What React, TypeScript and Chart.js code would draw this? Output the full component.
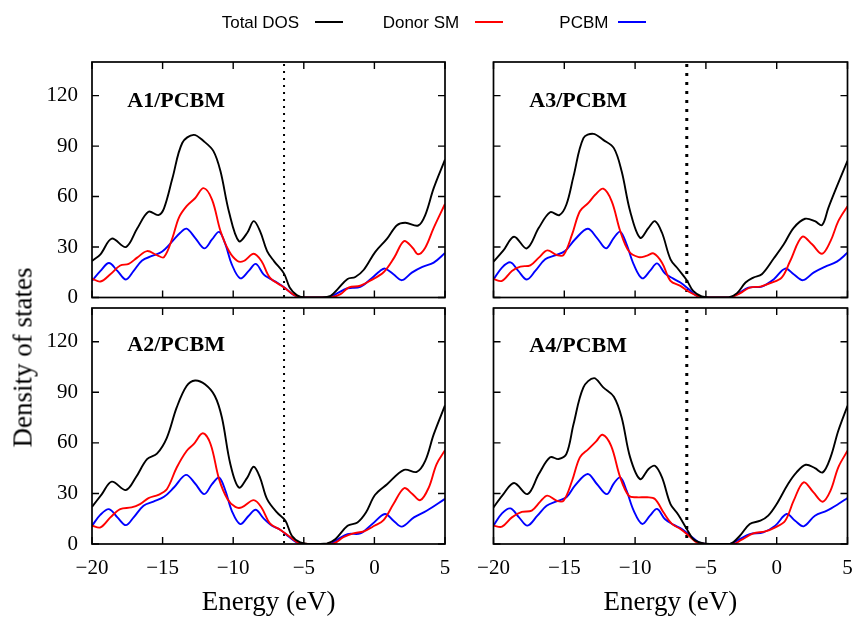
import React, { useEffect, useRef } from 'react';
import { Chart, registerables } from 'chart.js';

Chart.register(...registerables);

type Pt = [number, number];

// ---------- axes ----------
const X_MIN = -20;
const X_MAX = 5;
const Y_MIN = 0;
const Y_MAX = 140;
const X_TICKS = [-20, -15, -10, -5, 0, 5];
const Y_TICKS = [0, 30, 60, 90, 120];

// ---------- legend ----------
const SERIES_NAMES = ['Total DOS', 'Donor SM', 'PCBM'];
const SERIES_COLORS = ['#000000', '#ff0000', '#0000ff'];

// ---------- panel A1/PCBM ----------
const A1_TOTAL: Pt[] = [[-20, 21.7], [-19.4, 25.7], [-18.6, 35], [-17.6, 30], [-16.8, 41], [-16, 51], [-15.3, 49], [-14.9, 53], [-14.3, 71], [-13.6, 92], [-12.8, 96.7], [-12.1, 93], [-11.4, 87], [-10.9, 75], [-10.3, 51], [-9.6, 33.5], [-9.0, 38.5], [-8.55, 45.4], [-8.1, 39.5], [-7.6, 27.6], [-7.1, 21.5], [-6.4, 14.2], [-6.0, 6], [-5.5, 1.4], [-5.0, 0], [-3.8, 0], [-3.1, 1], [-2.6, 5], [-1.9, 11], [-1.35, 12.2], [-0.75, 16.5], [0.05, 27], [0.9, 35], [1.6, 43], [2.2, 44.4], [3.1, 42.8], [3.6, 49], [4.2, 65], [5, 82]];
const A1_DONOR: Pt[] = [[-20, 11.2], [-19.4, 9.5], [-18.7, 13.8], [-18.0, 19], [-17.4, 20], [-16.8, 23.7], [-16.1, 27.6], [-15.4, 25.2], [-14.9, 24], [-14.3, 35.5], [-13.85, 47.4], [-13.3, 54.3], [-12.7, 59], [-12.1, 65], [-11.5, 58.2], [-10.9, 39.5], [-10.3, 27.6], [-9.7, 21.7], [-9.25, 21.7], [-8.55, 26], [-8.0, 21.7], [-7.4, 11.8], [-6.4, 6], [-5.7, 1.6], [-5.0, 0], [-3.1, 0], [-2.4, 2], [-1.8, 6], [-1.0, 7], [-0.3, 10], [0.65, 15], [1.4, 23.7], [2.1, 33.5], [2.7, 29.6], [3.1, 25.7], [3.6, 29.6], [4.2, 41.4], [5, 55.6]];
const A1_PCBM: Pt[] = [[-20, 9.9], [-19.4, 15.8], [-18.8, 20.5], [-18.2, 15.8], [-17.6, 10.7], [-17.05, 15.8], [-16.45, 22], [-15.75, 24.7], [-15.05, 27.2], [-14.3, 33.5], [-13.75, 38.5], [-13.3, 40.9], [-12.7, 35.5], [-12.05, 29.2], [-11.5, 34.5], [-11.0, 39], [-10.55, 31.6], [-10.1, 19.7], [-9.5, 11.4], [-8.9, 15.8], [-8.4, 20], [-7.85, 13.8], [-7.4, 11.2], [-6.9, 8.9], [-6.3, 5.5], [-5.7, 1.4], [-5.0, 0], [-3.2, 0], [-2.65, 2.4], [-1.9, 5.5], [-1.0, 6.3], [-0.15, 11.8], [0.4, 15.8], [0.75, 17.2], [1.35, 13.8], [1.95, 10.3], [2.65, 14.8], [3.4, 18.2], [4.2, 20.7], [5, 26.4]];
const A1_FERMI = -6.4;

// ---------- panel A2/PCBM ----------
const A2_TOTAL: Pt[] = [[-20, 22], [-19.3, 29.6], [-18.6, 37], [-17.6, 32], [-16.9, 39.4], [-16.1, 50.3], [-15.4, 53.6], [-14.7, 63], [-14.0, 81], [-13.3, 93.7], [-12.7, 97], [-12.0, 94.7], [-11.3, 87.8], [-10.8, 75], [-10.2, 47.3], [-9.6, 33.5], [-9.0, 39.4], [-8.55, 45.8], [-8.1, 39.4], [-7.6, 26.6], [-6.9, 18.7], [-6.3, 13.8], [-5.85, 4.9], [-5.25, 1], [-4.5, 0], [-3.35, 0.4], [-2.75, 3], [-1.9, 10.8], [-1.2, 12.8], [-0.6, 18.7], [0.05, 29.2], [0.9, 35.5], [2.1, 44], [3.0, 42.8], [3.6, 49.3], [4.2, 65], [5, 82.2]];
const A2_DONOR: Pt[] = [[-20, 10.8], [-19.4, 9.9], [-18.7, 15.8], [-18.0, 20.7], [-17.2, 21.7], [-16.6, 23.7], [-16.0, 27.2], [-15.3, 29.2], [-14.7, 32.5], [-14.0, 45.4], [-13.3, 55.2], [-12.8, 59.2], [-12.15, 65.7], [-11.6, 59.2], [-11.0, 38.5], [-10.4, 26.6], [-9.85, 22], [-9.4, 21.7], [-8.55, 26], [-8.0, 21.7], [-7.4, 12.2], [-6.65, 8.3], [-5.95, 4], [-5.25, 0.4], [-2.9, 0.4], [-2.2, 4], [-1.5, 6.3], [-0.75, 7.5], [0.0, 10.8], [0.65, 14.2], [1.35, 23.7], [2.1, 33.1], [2.65, 30], [3.25, 26], [3.85, 33.5], [4.4, 47.3], [5, 55.6]];
const A2_PCBM: Pt[] = [[-20, 10.8], [-19.4, 17.4], [-18.8, 20.7], [-18.2, 15.8], [-17.6, 11.2], [-17.05, 15.8], [-16.35, 22.7], [-15.65, 25.2], [-14.9, 28], [-14.2, 33.5], [-13.35, 41], [-12.7, 35.9], [-12.05, 29.6], [-11.5, 35.5], [-11.0, 39.4], [-10.55, 31.6], [-10.1, 19.7], [-9.5, 11.8], [-8.9, 16.8], [-8.4, 20.3], [-7.85, 15.2], [-7.25, 10.8], [-6.65, 8.3], [-6.05, 4.3], [-5.5, 1], [-5.0, 0], [-3.2, 0], [-2.65, 2.4], [-1.9, 5.9], [-1.0, 6.3], [-0.15, 11.8], [0.75, 17.8], [1.35, 13.8], [1.95, 10.3], [2.8, 15.8], [3.7, 19.7], [5, 26.8]];
const A2_FERMI = -6.4;

// ---------- panel A3/PCBM ----------
const A3_TOTAL: Pt[] = [[-20, 21.3], [-19.3, 28], [-18.55, 36.1], [-17.65, 29.2], [-16.8, 41.4], [-16.0, 50.7], [-15.35, 49], [-14.85, 55.3], [-14.35, 72], [-13.65, 94.7], [-12.95, 97.3], [-12.25, 93.7], [-11.5, 88.8], [-10.95, 75], [-10.35, 51.3], [-9.65, 35.5], [-9.05, 41.4], [-8.6, 45.4], [-8.1, 38.5], [-7.5, 22.7], [-6.95, 16.8], [-6.35, 10.3], [-5.9, 3.9], [-5.3, 0.6], [-4.7, 0], [-3.4, 0], [-2.8, 2.6], [-2.2, 8.9], [-1.65, 11.8], [-1.05, 13.8], [-0.2, 23.3], [0.5, 31.6], [1.2, 41.4], [2.0, 46.8], [2.7, 45.4], [3.2, 43], [3.65, 53.3], [4.25, 66], [5, 81.3]];
const A3_DONOR: Pt[] = [[-20, 10.9], [-19.4, 9.9], [-18.7, 15.8], [-18.1, 18.4], [-17.4, 19.1], [-16.8, 23.7], [-16.2, 28], [-15.55, 25.3], [-15.05, 25.3], [-14.45, 37.5], [-13.9, 51.3], [-13.3, 56.2], [-12.8, 61.2], [-12.25, 64.7], [-11.65, 57.2], [-11.05, 39.5], [-10.45, 27.6], [-9.75, 24], [-9.15, 24.9], [-8.7, 26.2], [-8.1, 20.7], [-7.5, 9.9], [-6.8, 6.9], [-6.2, 3.4], [-5.5, 0.6], [-4.95, 0], [-3.3, 0], [-2.6, 2.4], [-1.9, 5.9], [-1.15, 6.5], [-0.45, 8.5], [0.35, 11.8], [0.95, 21.7], [1.8, 36.1], [2.5, 31.6], [3.2, 26], [3.8, 33.5], [4.35, 45.4], [5, 54.3]];
const A3_PCBM: Pt[] = [[-20, 10.7], [-19.4, 17.8], [-18.8, 20.9], [-18.25, 15.8], [-17.65, 10.7], [-17.05, 15.8], [-16.35, 22.7], [-15.65, 25], [-14.95, 27.6], [-14.25, 34.5], [-13.35, 40.9], [-12.7, 35.5], [-12.05, 29.2], [-11.5, 35.5], [-11.05, 39.1], [-10.6, 31.6], [-10.1, 19.7], [-9.5, 11.4], [-8.95, 15.8], [-8.45, 20.3], [-7.9, 14.4], [-7.3, 11.2], [-6.8, 8.9], [-6.2, 4.9], [-5.65, 1], [-4.95, 0], [-3.3, 0], [-2.7, 2.4], [-2.0, 5.9], [-1.05, 6.5], [-0.2, 10.9], [0.6, 17.2], [1.2, 13.8], [1.85, 10.3], [2.6, 14.8], [3.4, 18.2], [4.25, 21.3], [5, 26.6]];
const A3_FERMI = -6.35;

// ---------- panel A4/PCBM ----------
const A4_TOTAL: Pt[] = [[-20, 21.7], [-19.3, 29.6], [-18.55, 36.2], [-17.6, 29.6], [-16.8, 41.5], [-16.0, 51.4], [-15.4, 50.4], [-14.85, 53.4], [-14.35, 71], [-13.65, 92.9], [-12.9, 98.4], [-12.25, 92.9], [-11.5, 87.4], [-10.95, 75.1], [-10.35, 51.4], [-9.65, 38.5], [-9.05, 44.5], [-8.6, 46.4], [-8.1, 39.5], [-7.5, 23.7], [-6.95, 17.4], [-6.35, 8.9], [-5.9, 3], [-5.3, 0.6], [-4.7, 0], [-3.3, 0], [-2.6, 4.9], [-1.9, 11.9], [-1.15, 13.8], [-0.6, 16.8], [0.0, 23.7], [0.8, 35.6], [1.4, 42.5], [2.05, 47], [2.7, 45], [3.25, 42.5], [3.8, 51.4], [4.35, 67.2], [5, 82]];
const A4_DONOR: Pt[] = [[-20, 10.9], [-19.4, 10.3], [-18.7, 15.8], [-18.0, 19], [-17.3, 19.8], [-16.7, 25.1], [-16.2, 28.7], [-15.55, 25.7], [-15.05, 25.7], [-14.45, 37.5], [-13.9, 51.4], [-13.3, 56.3], [-12.75, 60.9], [-12.3, 64.8], [-11.7, 58.3], [-11.05, 39.5], [-10.45, 28.7], [-9.9, 27.7], [-9.15, 27.7], [-8.6, 26.7], [-8.0, 18.8], [-7.4, 11.9], [-6.8, 8.9], [-6.2, 4.9], [-5.65, 1], [-4.95, 0], [-3.05, 0], [-2.5, 2.4], [-1.65, 6.3], [-0.8, 7.5], [-0.1, 9.9], [0.6, 13.8], [1.2, 25.7], [1.9, 36.6], [2.6, 30.6], [3.25, 25.1], [3.8, 31.6], [4.35, 45.5], [5, 55.3]];
const A4_PCBM: Pt[] = [[-20, 10.9], [-19.4, 18.2], [-18.8, 21.1], [-18.2, 15.8], [-17.6, 10.9], [-16.9, 16.8], [-16.25, 22.7], [-15.55, 25.3], [-14.85, 27.7], [-14.25, 34.6], [-13.35, 41.5], [-12.7, 35.6], [-12.0, 29.6], [-11.5, 36], [-11.05, 39.5], [-10.6, 31.6], [-10.1, 19.8], [-9.5, 11.9], [-8.95, 16.8], [-8.45, 20.8], [-7.9, 14.8], [-7.3, 11.5], [-6.7, 8.9], [-6.1, 4.9], [-5.5, 1], [-4.95, 0], [-3.3, 0], [-2.7, 2.4], [-1.9, 5.9], [-0.95, 6.9], [-0.1, 10.9], [0.7, 17.8], [1.3, 13.8], [1.9, 10.5], [2.7, 16.8], [3.55, 19.8], [4.35, 23.7], [5, 27.3]];
const A4_FERMI = -6.35;

// ---------- layout ----------
const W = 855;
const H = 617;
const CW = 960; // canvas is larger than the page; the container clips it
const CH = 720;
const SERIF = '"Liberation Serif", "Times New Roman", serif';
const SANS = '"Liberation Sans", Arial, sans-serif';

interface PanelDef {
  title: string;
  series: Pt[][];
  fermi: number;
  left: number;
  right: number;
  top: number;
  bottom: number;
  showX: boolean;
  showY: boolean;
  dotWidth: number;
  dash: number[];
  titleLeft: number;
  titleTop: number;
}

const PANELS: PanelDef[] = [
  { title: 'A1/PCBM', series: [A1_TOTAL, A1_DONOR, A1_PCBM], fermi: A1_FERMI, left: 92, right: 445, top: 62, bottom: 297.5, showX: false, showY: true, dotWidth: 2, dash: [2, 5], titleLeft: 127.3, titleTop: 89.4 },
  { title: 'A3/PCBM', series: [A3_TOTAL, A3_DONOR, A3_PCBM], fermi: A3_FERMI, left: 493.5, right: 847.5, top: 62, bottom: 297.5, showX: false, showY: false, dotWidth: 3, dash: [3, 6], titleLeft: 529.3, titleTop: 88.8 },
  { title: 'A2/PCBM', series: [A2_TOTAL, A2_DONOR, A2_PCBM], fermi: A2_FERMI, left: 92, right: 445, top: 308, bottom: 544, showX: true, showY: true, dotWidth: 2, dash: [2, 5], titleLeft: 127.3, titleTop: 332.8 },
  { title: 'A4/PCBM', series: [A4_TOTAL, A4_DONOR, A4_PCBM], fermi: A4_FERMI, left: 493.5, right: 847.5, top: 308, bottom: 544, showX: true, showY: false, dotWidth: 3, dash: [3, 6], titleLeft: 529.3, titleTop: 333.8 },
];

const Y_AXIS_W = 80;
const X_AXIS_H = 40;

const fmt = (v: number) => (v < 0 ? '\u2212' + Math.abs(v) : String(v));

const framePlugin = {
  id: 'frame',
  beforeDatasetsDraw(chart: any, _args: any, opts: any) {
    const { ctx, chartArea: a, scales } = chart;
    const fx = scales.x.getPixelForValue(opts.fermi);
    ctx.save();
    ctx.strokeStyle = '#000';
    ctx.lineWidth = opts.dotWidth;
    ctx.setLineDash(opts.dash);
    ctx.beginPath();
    ctx.moveTo(fx, a.top + 2);
    ctx.lineTo(fx, a.bottom);
    ctx.stroke();
    ctx.restore();
  },
  afterDatasetsDraw(chart: any) {
    const { ctx, chartArea: a, scales } = chart;
    const tl = 7;
    ctx.save();
    ctx.strokeStyle = '#000';
    ctx.lineWidth = 1.4;
    ctx.setLineDash([]);
    ctx.beginPath();
    for (const v of X_TICKS) {
      const px = scales.x.getPixelForValue(v);
      ctx.moveTo(px, a.bottom);
      ctx.lineTo(px, a.bottom - tl);
      ctx.moveTo(px, a.top);
      ctx.lineTo(px, a.top + tl);
    }
    for (const v of Y_TICKS) {
      const py = scales.y.getPixelForValue(v);
      ctx.moveTo(a.left, py);
      ctx.lineTo(a.left + tl, py);
      ctx.moveTo(a.right, py);
      ctx.lineTo(a.right - tl, py);
    }
    ctx.stroke();
    ctx.lineWidth = 1.7;
    ctx.strokeRect(a.left, a.top, a.right - a.left, a.bottom - a.top);
    ctx.restore();
  },
};

function Panel({ p }: { p: PanelDef }) {
  const ref = useRef<HTMLCanvasElement | null>(null);
  useEffect(() => {
    if (!ref.current) return;
    const yW = p.showY ? Y_AXIS_W : 0;
    const xH = p.showX ? X_AXIS_H : 0;
    const chart = new Chart(ref.current, {
      type: 'line',
      data: {
        datasets: p.series.map((s, i) => ({
          label: SERIES_NAMES[i],
          data: s.map(([x, y]) => ({ x, y })),
          borderColor: SERIES_COLORS[i],
          backgroundColor: SERIES_COLORS[i],
          borderWidth: 1.9,
          pointRadius: 0,
          fill: false,
          tension: 0.35,
        })),
      },
      options: {
        responsive: false,
        maintainAspectRatio: false,
        animation: false,
        events: [],
        layout: {
          padding: {
            left: p.left - yW,
            right: CW - p.right,
            top: p.top,
            bottom: CH - p.bottom - xH,
          },
        },
        plugins: {
          legend: { display: false },
          tooltip: { enabled: false },
          frame: { fermi: p.fermi, dotWidth: p.dotWidth, dash: p.dash },
        } as any,
        scales: {
          x: {
            type: 'linear',
            min: X_MIN,
            max: X_MAX,
            grid: { display: false, drawTicks: false },
            border: { display: false },
            ticks: {
              display: p.showX,
              stepSize: 5,
              includeBounds: false,
              padding: 12,
              color: '#000',
              font: { family: SERIF, size: 21 },
              maxRotation: 0,
              callback: (v: any) => fmt(Number(v)),
            },
            afterFit: (s: any) => {
              s.height = xH;
            },
          },
          y: {
            type: 'linear',
            min: Y_MIN,
            max: Y_MAX,
            grid: { display: false, drawTicks: false },
            border: { display: false },
            ticks: {
              display: p.showY,
              stepSize: 30,
              includeBounds: false,
              padding: 14,
              color: '#000',
              font: { family: SERIF, size: 21 },
              callback: (v: any) => fmt(Number(v)),
            },
            afterFit: (s: any) => {
              s.width = yW;
            },
          },
        },
      },
      plugins: [framePlugin],
    });
    return () => chart.destroy();
  }, [p]);
  return (
    <canvas
      ref={ref}
      width={CW}
      height={CH}
      style={{ position: 'absolute', left: 0, top: 0, width: CW, height: CH }}
    />
  );
}

const abs = (extra: React.CSSProperties): React.CSSProperties => ({
  position: 'absolute',
  whiteSpace: 'nowrap',
  margin: 0,
  padding: 0,
  ...extra,
});

export default function App() {
  useEffect(() => {
    document.body.style.margin = '0';
  }, []);
  const legendText = [221.7, 382.7, 559.3];
  const legendLine = [315, 475, 618];
  return (
    <div
      style={{
        position: 'fixed',
        left: 0,
        top: 0,
        width: W,
        height: H,
        background: '#fff',
        overflow: 'hidden',
      }}
    >
      {PANELS.map((p) => (
        <Panel key={p.title} p={p} />
      ))}
      {PANELS.map((p) => (
        <div
          key={p.title + '-t'}
          style={abs({
            left: p.titleLeft,
            top: p.titleTop,
            fontFamily: SERIF,
            fontWeight: 'bold',
            fontSize: 22,
            lineHeight: '22px',
            color: '#000',
          })}
        >
          {p.title}
        </div>
      ))}
      {SERIES_NAMES.map((n, i) => (
        <React.Fragment key={n}>
          <div
            style={abs({
              left: legendText[i],
              top: 14.2,
              fontFamily: SANS,
              fontSize: 17,
              lineHeight: '17px',
              color: '#000',
            })}
          >
            {n}
          </div>
          <div
            style={abs({
              left: legendLine[i],
              top: 20.5,
              width: 28,
              height: 2,
              background: SERIES_COLORS[i],
            })}
          />
        </React.Fragment>
      ))}
      {[268.7, 670.4].map((cx, i) => (
        <div
          key={'xl' + i}
          style={abs({
            left: cx - 100,
            width: 200,
            textAlign: 'center',
            top: 588,
            fontFamily: SERIF,
            fontSize: 27,
            lineHeight: '27px',
            color: '#000',
          })}
        >
          Energy (eV)
        </div>
      ))}
      <div
        style={abs({
          left: 22.6 - 120,
          top: 357.3 - 13.5,
          width: 240,
          height: 27,
          textAlign: 'center',
          fontFamily: SERIF,
          fontSize: 27,
          lineHeight: '27px',
          color: '#000',
          transform: 'rotate(-90deg)',
          transformOrigin: '50% 50%',
        })}
      >
        Density of states
      </div>
    </div>
  );
}
